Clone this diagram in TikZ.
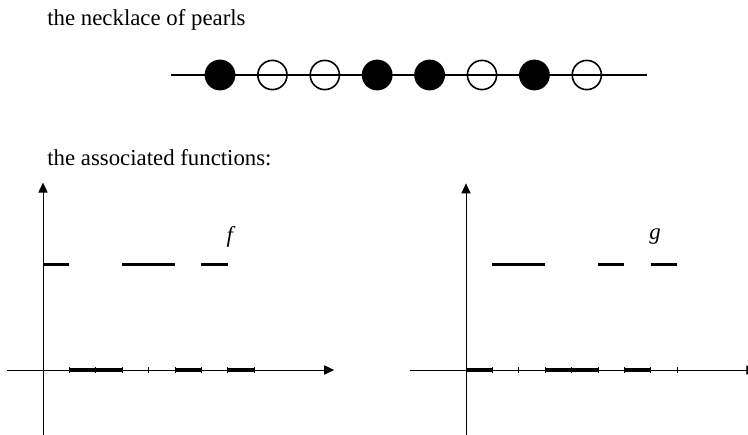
\documentclass[tikz,border=0pt]{standalone}
\usepackage{fontspec}
\setmainfont{Liberation Serif}
\usetikzlibrary{arrows.meta, positioning}

\begin{document}
\begin{tikzpicture}[
  x=0.5pt, y=-0.5pt,
  caption/.style={anchor=base west, inner sep=0pt, font=\fontsize{11.4pt}{14pt}\selectfont},
  pearl/.style={circle, draw=black, line width=0.8pt, minimum size=14.6pt, inner sep=0pt, fill=#1},
  pearl/.default=none,
  ax/.style={-{Triangle[length=5pt,width=4.6pt]}, line width=0.5pt},
  piece/.style={line width=1.6pt},
  tickmark/.style={line width=0.4pt},
  fname/.style={font=\fontsize{11.4pt}{14pt}\selectfont\itshape, inner sep=0pt},
]
  \useasboundingbox (0,0) rectangle (748,434);

  % Headings
  \node[caption] (necktitle) at (47,25.5) {the necklace of pearls};
  \node[caption] (functitle) at (47,165.5) {the associated functions:};

  % Necklace
  \coordinate (neckL) at (171,75);
  \coordinate (neckR) at (647,75);
  \draw[line width=0.6pt] (neckL) -- (neckR);
  \node[pearl=black] (p1) at (220,75) {};
  \node[pearl]       (p2) at (272.4,75) {};
  \node[pearl]       (p3) at (324.8,75) {};
  \node[pearl=black] (p4) at (377.2,75) {};
  \node[pearl=black] (p5) at (429.6,75) {};
  \node[pearl]       (p6) at (482,75) {};
  \node[pearl=black] (p7) at (534.4,75) {};
  \node[pearl]       (p8) at (586.8,75) {};

  % Function f
  \begin{scope}[shift={(43,370)}, x=13.2pt, y=13.2pt]
    \coordinate (fxL) at (-1.37,0);
    \coordinate (fxR) at (11.03,0);
    \coordinate (fyB) at (0,-2.6);
    \coordinate (fyT) at (0,7.1);
    \draw[ax] (fxL) -- (fxR);
    \draw[ax] (fyB) -- (fyT);
    \foreach \x in {1,...,8}
      \draw[tickmark] (\x,-0.12) -- (\x,0.12);
    \draw[piece] (0,4) -- (1,4) (3,4) -- (5,4) (6,4) -- (7,4);
    \draw[piece] (1,0) -- (3,0) (5,0) -- (6,0) (7,0) -- (8,0);
    \node[fname] (flabel) at (7.08,5.04) {f};
  \end{scope}

  % Function g
  \begin{scope}[shift={(466,370)}, x=13.2pt, y=13.2pt]
    \coordinate (gxL) at (-2.12,0);
    \coordinate (gxR) at (11.0,0);
    \coordinate (gyB) at (0,-2.6);
    \coordinate (gyT) at (0,7.07);
    \draw[ax] (gxL) -- (gxR);
    \draw[ax] (gyB) -- (gyT);
    \foreach \x in {1,...,8}
      \draw[tickmark] (\x,-0.12) -- (\x,0.12);
    \draw[piece] (1,4) -- (3,4) (5,4) -- (6,4) (7,4) -- (8,4);
    \draw[piece] (0,0) -- (1,0) (3,0) -- (5,0) (6,0) -- (7,0);
    \node[fname] (glabel) at (7.16,5.04) {g};
  \end{scope}
\end{tikzpicture}
\end{document}
